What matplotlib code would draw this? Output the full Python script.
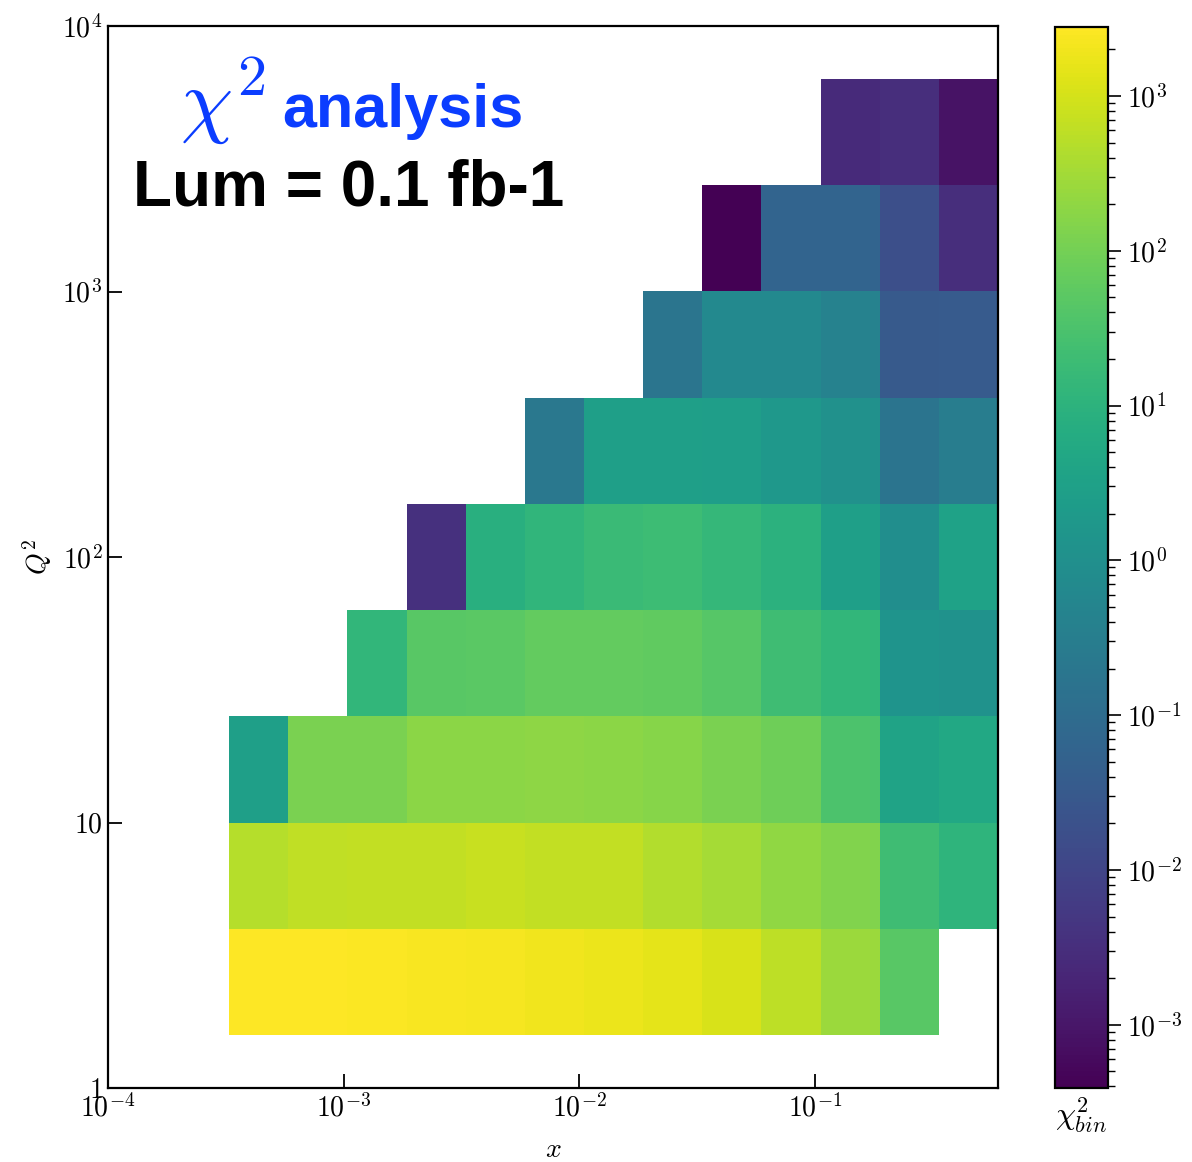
import numpy as np
import matplotlib
matplotlib.use("Agg")
import matplotlib.pyplot as plt
from matplotlib.colors import LogNorm
from matplotlib.ticker import FixedLocator, FixedFormatter, NullLocator

plt.rcParams["mathtext.fontset"] = "cm"
plt.rcParams["font.family"] = ["Liberation Sans", "DejaVu Sans"]

# bin edges (log10)
log_x_edges = [-3.486 + 0.251 * k for k in range(14)]
log_q2_edges = [0.2 + 0.4 * k for k in range(10)]

nan = np.nan
# chi2 per bin, rows from lowest Q2 upward, columns from lowest x
chi2_rows = [
    [2790, 2700, 2600, 2400, 2200, 2000, 1740, 1480, 1080, 570, 260, 46, nan],
    [490, 630, 670, 670, 730, 670, 660, 455, 330, 205, 138, 21, 11],
    [2.7, 118, 120, 175, 185, 190, 185, 160, 120, 87, 31, 3.7, 5.0],
    [nan, nan, 13, 46, 48, 63, 63, 60, 43, 21, 13, 1.4, 1.2],
    [nan, nan, nan, 0.0035, 8, 12, 17, 19, 14, 9.5, 2.7, 0.9, 3.4],
    [nan, nan, nan, nan, nan, 0.21, 2.7, 2.7, 2.5, 1.8, 1.1, 0.17, 0.29],
    [nan, nan, nan, nan, nan, nan, nan, 0.18, 0.65, 0.65, 0.42, 0.032, 0.034],
    [nan, nan, nan, nan, nan, nan, nan, nan, 3.9e-4, 0.06, 0.06, 0.017, 0.003],
    [nan, nan, nan, nan, nan, nan, nan, nan, nan, nan, 0.0026, 0.003, 8.5e-4],
]

x_ticks = [1e-4, 1e-3, 1e-2, 1e-1]
x_ticklabels = [r"$10^{-4}$", r"$10^{-3}$", r"$10^{-2}$", r"$10^{-1}$"]
y_ticks = [1, 10, 1e2, 1e3, 1e4]
y_ticklabels = [r"$1$", r"$10$", r"$10^{2}$", r"$10^{3}$", r"$10^{4}$"]
cb_ticks = [1e-3, 1e-2, 1e-1, 1, 10, 1e2, 1e3]
cb_ticklabels = [r"$10^{-3}$", r"$10^{-2}$", r"$10^{-1}$", r"$10^{0}$",
                 r"$10^{1}$", r"$10^{2}$", r"$10^{3}$"]


def main():
    x_edges = 10 ** np.array(log_x_edges)
    q2_edges = 10 ** np.array(log_q2_edges)
    z = np.ma.masked_invalid(np.array(chi2_rows, dtype=float))

    fig = plt.figure(figsize=(11.92, 11.62), dpi=100)
    ax = fig.add_axes([108 / 1192, 74 / 1162, 890 / 1192, 1062 / 1162])
    cax = fig.add_axes([1055 / 1192, 74 / 1162, 53 / 1192, 1061 / 1162])

    mesh = ax.pcolormesh(x_edges, q2_edges, z, cmap="viridis",
                         norm=LogNorm(vmin=z.min(), vmax=z.max()))

    ax.set_xscale("log")
    ax.set_yscale("log")
    ax.set_xlim(1e-4, x_edges[-1])
    ax.set_ylim(1, 1e4)

    ax.xaxis.set_major_locator(FixedLocator(x_ticks))
    ax.xaxis.set_major_formatter(FixedFormatter(x_ticklabels))
    ax.yaxis.set_major_locator(FixedLocator(y_ticks))
    ax.yaxis.set_major_formatter(FixedFormatter(y_ticklabels))
    ax.xaxis.set_minor_locator(NullLocator())
    ax.yaxis.set_minor_locator(NullLocator())
    ax.tick_params(axis="both", which="major", direction="in", length=10,
                   width=1.3, labelsize=20, pad=4)
    for sp in ax.spines.values():
        sp.set_linewidth(1.6)

    ax.set_xlabel(r"$x$", fontsize=20, labelpad=11)
    ax.set_ylabel(r"$Q^2$", fontsize=20, labelpad=6)

    # title block: chi^2 drawn bigger than the word, as in the original
    ax.text(0.177, 0.905, r"$\chi^2$", transform=ax.transAxes,
            ha="right", va="baseline", fontsize=60, color="#0b3dff")
    ax.text(0.196, 0.905, "analysis", transform=ax.transAxes,
            ha="left", va="baseline", fontsize=44, fontweight="bold",
            color="#0b3dff")
    ax.text(0.27, 0.831, "Lum = 0.1 fb-1", transform=ax.transAxes,
            ha="center", va="baseline", fontsize=46, fontweight="bold",
            color="black")

    cbar = fig.colorbar(mesh, cax=cax)
    cbar.set_ticks(cb_ticks)
    cbar.set_ticklabels(cb_ticklabels)
    cbar.ax.tick_params(which="major", length=9, width=1.2, labelsize=20,
                        pad=5)
    cbar.ax.tick_params(which="minor", length=5, width=1.0)
    cbar.outline.set_linewidth(1.6)
    cbar.ax.set_xlabel(r"$\chi^2_{bin}$", fontsize=23, labelpad=5)

    fig.savefig("out.png", dpi=100)
    plt.close(fig)


if __name__ == "__main__":
    main()
